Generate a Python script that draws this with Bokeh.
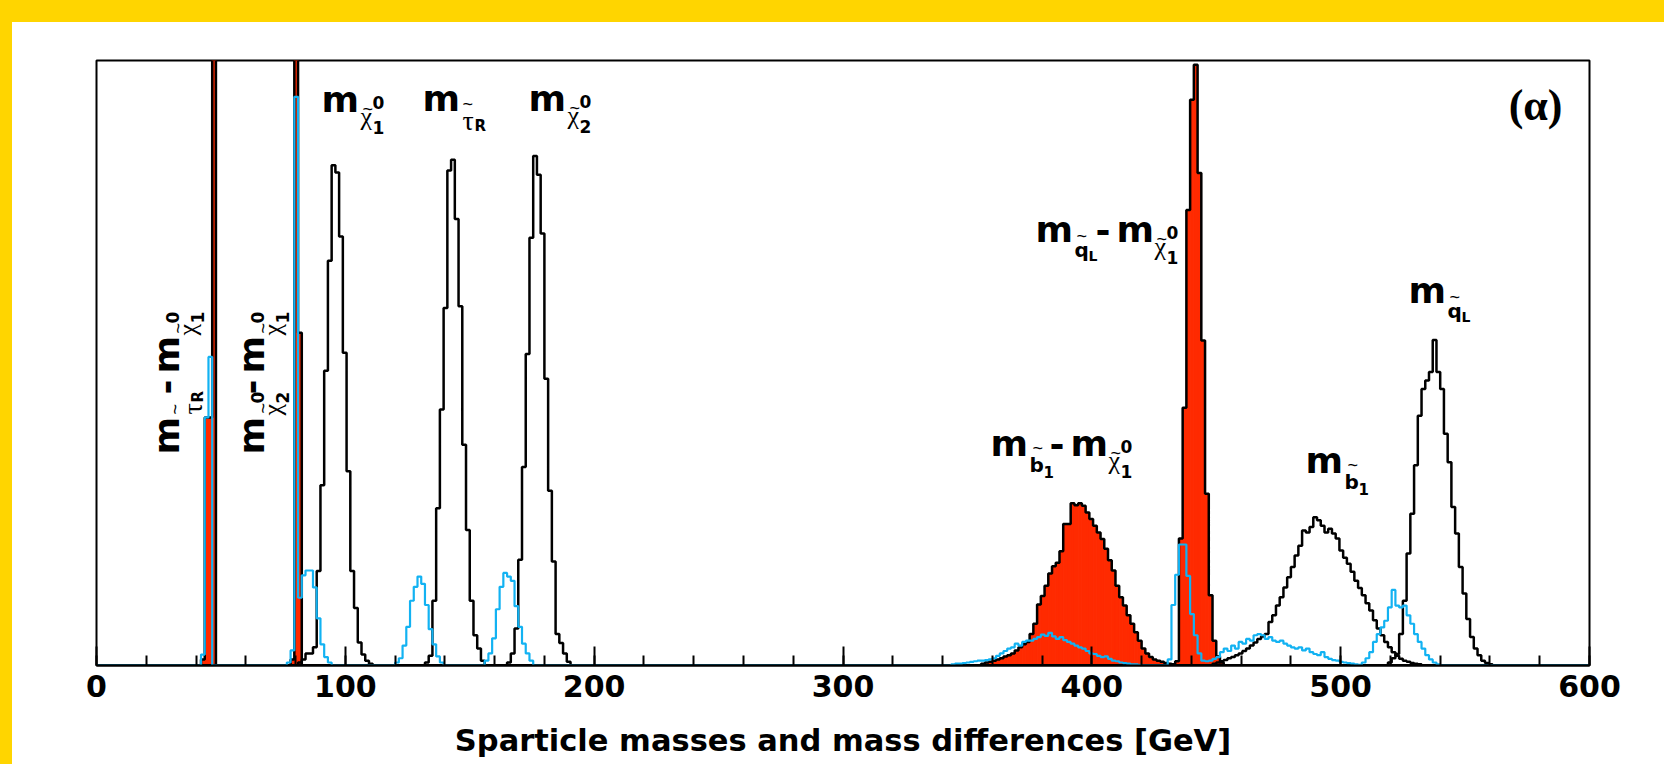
import numpy as np
from math import pi
from bokeh.plotting import figure
from bokeh.models import Range1d, FixedTicker, ColumnDataSource
from bokeh.embed import file_html
from bokeh.resources import INLINE

# ---------------- data (entries per 1.5 GeV bin; frame top = 1000) ----------------
BIN_WIDTH = 1.5
X_MAX = 600.0
Y_MAX = 1000.0
major_ticks = [0, 100, 200, 300, 400, 500, 600]
minor_ticks = list(range(0, 601, 20))
x_title = "Sparticle masses and mass differences [GeV]"

# black outlines: sparticle masses
chi1_start = 81.0
chi1_counts = [5, 10, 20, 20, 30, 156, 298, 487, 669, 827, 815, 709, 517, 321, 156, 95, 38, 18, 8, 3]
stau_start = 132.0
stau_counts = [5, 16, 107, 260, 423, 591, 818, 836, 738, 594, 365, 224, 107, 50, 28, 8]
chi2_start = 165.0
chi2_counts = [5, 20, 61, 175, 328, 515, 707, 842, 811, 714, 474, 289, 172, 52, 37, 20, 6]
sb1_start = 448.5
sb1_counts = [3, 5, 7, 9, 12, 14, 17, 20, 24, 28, 33, 38, 44, 48, 52, 72, 83, 99, 113, 129,
              146, 163, 182, 198, 223, 220, 229, 245, 240, 231, 220, 226, 218, 210, 190, 178,
              168, 155, 140, 128, 116, 103, 91, 75, 61, 50, 39, 30, 22, 16, 11, 8, 6, 4, 3, 2]
sqL_start = 519.0
sqL_counts = [5, 12, 19, 52, 107, 185, 251, 331, 413, 457, 471, 485, 538, 485, 457, 383, 336,
              262, 218, 163, 119, 77, 47, 28, 17, 8, 4, 2]

# red filled: mass differences
d_stau_start = 42.0
d_stau_counts = [10, 410, 410, 1500]
d_chi2_start = 78.0
d_chi2_counts = [10, 1500, 550]
d_sb1_start = 355.5
d_sb1_counts = [3, 5, 6, 8, 10, 12, 15, 17, 20, 25, 30, 35, 39, 52, 69, 101, 115, 132, 152, 164,
                170, 189, 234, 234, 268, 265, 268, 264, 253, 242, 231, 220, 209, 193, 174, 157,
                132, 113, 99, 83, 69, 55, 41, 28, 20, 14, 10, 8, 6, 4, 3, 2, 2]
d_sqL_start = 433.5
d_sqL_counts = [5, 210, 426, 753, 935, 993, 814, 537, 284, 116, 41, 15, 5]

# cyan outline
c_stau_d_start = 42.0
c_stau_d_counts = [18, 410, 510]
c_low_start = 76.5
c_low_counts = [5, 25, 940, 112, 149, 157, 157, 129, 78, 35, 14, 5]
c_stau_start = 120.0
c_stau_counts = [5, 12, 33, 64, 107, 130, 147, 135, 100, 60, 35, 15, 5]
c_chi2_start = 156.0
c_chi2_counts = [8, 20, 45, 93, 130, 153, 147, 140, 98, 64, 36, 20, 8]
c_sb1_d_start = 343.5
c_sb1_d_counts = [2, 3, 3, 4, 5, 6, 7, 8, 8, 9, 10, 12, 16, 20, 24, 28, 30, 36, 33, 39, 41, 41,
                  44, 47, 51, 49, 54, 48, 44, 47, 42, 39, 36, 33, 30, 28, 24, 20, 19, 16, 14, 15,
                  11, 8, 7, 5, 4, 3, 2, 2, 1]
c_sqL_d_start = 430.5
c_sqL_d_counts = [10, 100, 150, 200, 200, 148, 85, 50, 20, 8, 3]
c_sb1_start = 445.5
c_sb1_counts = [4, 8, 11, 14, 22, 28, 24, 33, 28, 39, 36, 44, 41, 50, 52, 50, 44, 47, 41, 39, 41,
                36, 33, 30, 28, 30, 25, 28, 22, 19, 17, 22, 14, 11, 9, 8, 6, 5, 4, 3, 2, 1]
c_sqL_start = 508.5
c_sqL_counts = [5, 12, 22, 39, 52, 63, 74, 96, 125, 99, 96, 99, 83, 69, 52, 39, 28, 17, 10, 5, 2]

# ---------------- style ----------------
SANS = "DejaVu Sans"
LSANS = "Liberation Sans"
SERIF = "Liberation Serif"
RED = "#FF2A00"
CYAN = "#12B2F2"
YELLOW = "#FFD500"

NB = int(round(X_MAX / BIN_WIDTH))
edges = np.arange(NB + 1) * BIN_WIDTH


def hist(parts):
    h = np.zeros(NB)
    for start, vals in parts:
        i0 = int(round(start / BIN_WIDTH))
        h[i0:i0 + len(vals)] += np.asarray(vals, dtype=float)
    return h


black_hists = [hist([(chi1_start, chi1_counts)]), hist([(stau_start, stau_counts)]),
               hist([(chi2_start, chi2_counts)]), hist([(sb1_start, sb1_counts)]),
               hist([(sqL_start, sqL_counts)])]
red_hist = hist([(d_stau_start, d_stau_counts), (d_chi2_start, d_chi2_counts),
                 (d_sb1_start, d_sb1_counts), (d_sqL_start, d_sqL_counts)])
cyan_hist = hist([(c_stau_d_start, c_stau_d_counts), (c_low_start, c_low_counts),
                  (c_stau_start, c_stau_counts), (c_chi2_start, c_chi2_counts),
                  (c_sb1_d_start, c_sb1_d_counts), (c_sqL_d_start, c_sqL_d_counts),
                  (c_sb1_start, c_sb1_counts), (c_sqL_start, c_sqL_counts)])

# layout (canvas placed at page 12,22)
CANVAS_X, CANVAS_Y = 12, 22
BL, BR, BT, BB = 84, 75, 38, 105
FW, FH = 1493, 605
W, H = BL + FW + BR, BT + FH + BB
FL, FT = CANVAS_X + BL, CANVAS_Y + BT
FB = FT + FH

p = figure(width=W, height=H, x_range=Range1d(0, X_MAX), y_range=Range1d(0, Y_MAX),
           output_backend="svg", toolbar_location=None, y_axis_location=None, title=None,
           min_border_left=BL, min_border_right=BR, min_border_top=BT, min_border_bottom=BB)
p.grid.visible = False
p.background_fill_color = "white"
p.border_fill_color = "white"
p.outline_line_color = "black"
p.outline_line_width = 2

ax = p.xaxis[0]
ax.ticker = FixedTicker(ticks=major_ticks, minor_ticks=minor_ticks)
ax.major_tick_in = 19
ax.major_tick_out = 0
ax.minor_tick_in = 10
ax.minor_tick_out = 0
ax.major_tick_line_width = 2
ax.minor_tick_line_width = 2
ax.axis_line_width = 2
ax.major_label_text_font = SANS
ax.major_label_text_font_size = "30px"
ax.major_label_text_font_style = "bold"
ax.major_label_text_color = "black"
ax.major_label_standoff = 9
ax.axis_label = x_title
ax.axis_label_text_font = SANS
ax.axis_label_text_font_size = "30.5px"
ax.axis_label_text_font_style = "bold"
ax.axis_label_text_color = "black"
ax.axis_label_standoff = 23

def step_y(h):
    return np.append(h, h[-1])

# red fill
m = red_hist > 0
p.quad(left=edges[:-1][m], right=edges[1:][m], bottom=0, top=red_hist[m],
       fill_color=RED, line_color=RED, line_width=1)
p.step(x=edges, y=step_y(red_hist), mode="after", line_color="black", line_width=2.5)
for h in black_hists:
    p.step(x=edges, y=step_y(h), mode="after", line_color="black", line_width=2.5)
p.step(x=edges, y=step_y(cyan_hist), mode="after", line_color=CYAN, line_width=2.2)

# ---------------- labels ----------------
MS = 36  # size of the main "m"

def M(dx):
    return [("m", dx, 0, SANS, MS, "bold")]

def tilde(dx, center):
    return ("~", dx, center - 6, LSANS, 18, "normal")

def chi_sub(dx, n):
    return [("\u03c7", dx, -17, SERIF, 26, "normal"),
            tilde(dx + 2, 1),
            ("0", dx + 12, 1, SANS, 17, "bold"),
            (n, dx + 12, -24, SANS, 17, "bold")]

def tau_sub(dx):
    return [("\u03c4", dx + 1, -23, SERIF, 28, "normal"),
            tilde(dx + 1, 4.5),
            ("R", dx + 13, -23, SANS, 15, "bold")]

def q_sub(dx):
    return [("q", dx, -17, SANS, 20, "bold"),
            tilde(dx + 2, 4),
            ("L", dx + 14, -22, SANS, 14, "bold")]

def b_sub(dx):
    return [("b", dx, -18, SANS, 20, "bold"),
            tilde(dx + 3, 6),
            ("1", dx + 14, -24, SANS, 15, "bold")]

def dash(dx):
    return [("-", dx, 0, SANS, MS, "bold")]

labels = [
    ((321, 107), False, M(0) + chi_sub(39, "1")),
    ((422, 106), False, M(0) + tau_sub(39)),
    ((528, 106), False, M(0) + chi_sub(39, "2")),
    ((180, 454), True, M(0) + tau_sub(39) + dash(60) + M(81) + chi_sub(119, "1")),
    ((265, 454), True, M(0) + chi_sub(39, "2") + dash(60) + M(81) + chi_sub(119, "1")),
    ((1035, 237), False, M(0) + q_sub(39) + dash(60) + M(81) + chi_sub(119, "1")),
    ((990, 451), False, M(0) + b_sub(39) + dash(59) + M(80) + chi_sub(118, "1")),
    ((1305, 468), False, M(0) + b_sub(39)),
    ((1408, 298), False, M(0) + q_sub(39)),
]

# empirical baseline correction of the text renderer (fraction of font size)
K = {SANS: 0.22, LSANS: 0.21, SERIF: 0.31}
K_ROT = 0.4

cols = dict(x=[], y=[], text=[], font=[], size=[], style=[], angle=[], align=[])
def add(px, py, txt, fam, size, style, angle, align="left"):
    cols["x"].append((px - FL) / FW * X_MAX)
    cols["y"].append((FB - py) / FH * Y_MAX)
    cols["text"].append(txt)
    cols["font"].append(fam)
    cols["size"].append(f"{size}px")
    cols["style"].append(style)
    cols["angle"].append(angle)
    cols["align"].append(align)

for (X, Y), rot, pieces in labels:
    for txt, dx, dy, fam, size, style in pieces:
        if rot:
            add(X - dy - K_ROT * size, Y - dx, txt, fam, size, style, pi / 2)
        else:
            add(X + dx, Y - dy - K[fam] * size, txt, fam, size, style, 0.0)

add(1562, 119 - K[SERIF] * 44, "(\u03b1)", SERIF, 44, "bold", 0.0, "right")

src = ColumnDataSource(cols)
p.text(x="x", y="y", text="text", source=src, text_font="font", text_font_size="size",
       text_font_style="style", angle="angle", text_align="align",
       text_baseline="alphabetic", text_color="black")

html = file_html(p, INLINE, title="Sparticle masses")
i = html.find("<body", max(html.find("</head>"), 0))
style = ('<body style="margin:0;overflow:hidden;padding:%dpx 0 0 %dpx;'
         'background:linear-gradient(to right,%s 12px,rgba(255,255,255,0) 12px),'
         'linear-gradient(to bottom,%s 22px,#FFFFFF 22px);"' % (CANVAS_Y, CANVAS_X, YELLOW, YELLOW))
html = html[:i] + style + html[i + 5:]
open("out.html", "w").write(html)
